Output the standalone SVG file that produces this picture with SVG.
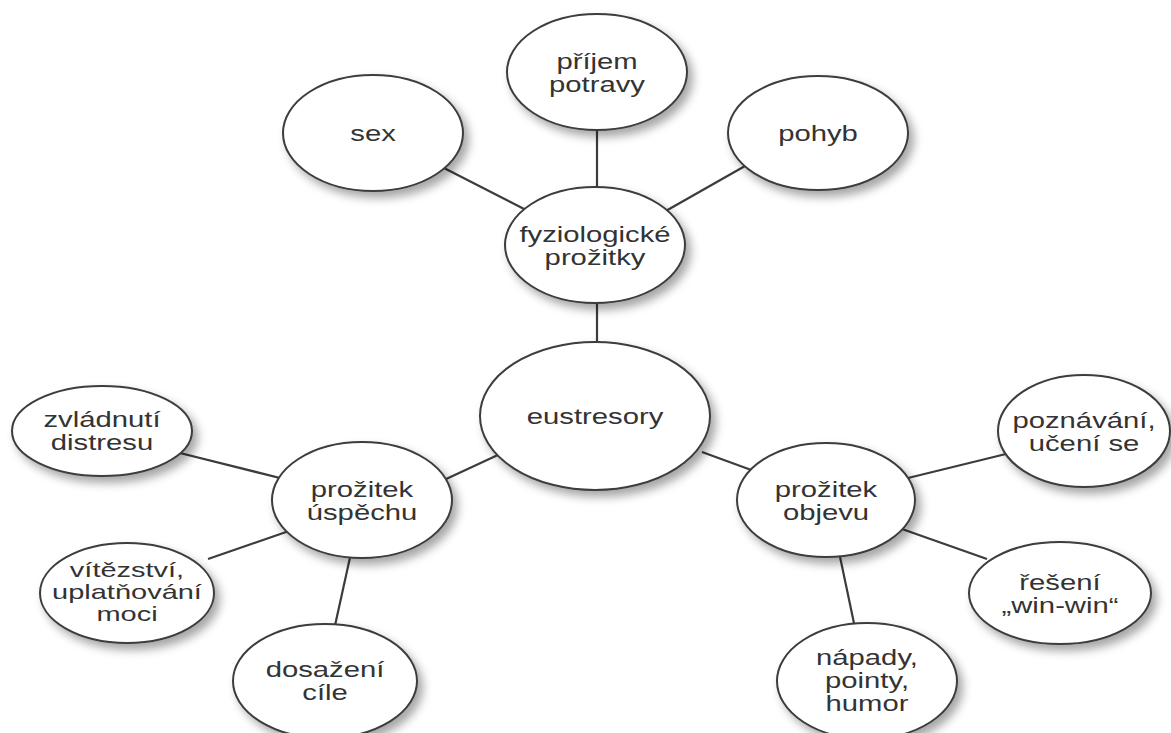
<svg xmlns="http://www.w3.org/2000/svg" width="1171" height="733" viewBox="0 0 1171 733">
<defs>
<filter id="sh" x="-20%" y="-20%" width="150%" height="150%">
<feDropShadow dx="5" dy="6" stdDeviation="5" flood-color="#000" flood-opacity="0.35"/>
</filter>
</defs>
<style>
.n{fill:#fff;stroke:#3c3c3c;stroke-width:2;filter:url(#sh)}
.c line{stroke:#3c3c3c;stroke-width:2.2}
text{font-family:"Liberation Sans",Arial,sans-serif;font-size:22px;fill:#333;text-anchor:middle}
.s{font-size:20px}
</style>
<rect width="1171" height="733" fill="#fff"/>
<g class="c" id="connectors">
<line x1="597" y1="125" x2="597" y2="190"/>
<line x1="442" y1="167" x2="528" y2="211"/>
<line x1="745" y1="166" x2="664" y2="212"/>
<line x1="597" y1="300" x2="597" y2="345"/>
<line x1="444" y1="480" x2="500" y2="454"/>
<line x1="180" y1="453" x2="284" y2="479"/>
<line x1="208" y1="559" x2="289" y2="531"/>
<line x1="351" y1="553" x2="334" y2="630"/>
<line x1="702" y1="452" x2="754" y2="471"/>
<line x1="908" y1="478" x2="1010" y2="453"/>
<line x1="902" y1="529" x2="987" y2="559"/>
<line x1="839" y1="552" x2="855" y2="628"/>
</g>
<g id="n-prijem"><ellipse class="n" cx="597" cy="72" rx="90" ry="58"/>
<text transform="translate(597 0) scale(1.33 1)" y="69">příjem</text>
<text transform="translate(597 0) scale(1.33 1)" y="92">potravy</text></g>
<g id="n-sex"><ellipse class="n" cx="373" cy="133" rx="90" ry="58"/>
<text transform="translate(373 0) scale(1.33 1)" y="141">sex</text></g>
<g id="n-pohyb"><ellipse class="n" cx="818" cy="133" rx="90" ry="57"/>
<text transform="translate(818 0) scale(1.33 1)" y="141">pohyb</text></g>
<g id="n-fyz"><ellipse class="n" cx="595" cy="245" rx="90" ry="58"/>
<text transform="translate(595 0) scale(1.33 1)" y="242">fyziologické</text>
<text transform="translate(595 0) scale(1.33 1)" y="265">prožitky</text></g>
<g id="n-eustresory"><ellipse class="n" cx="595" cy="416" rx="115" ry="74"/>
<text transform="translate(595 0) scale(1.33 1)" y="424">eustresory</text></g>
<g id="n-zvladnuti"><ellipse class="n" cx="102" cy="431" rx="90" ry="45"/>
<text transform="translate(102 0) scale(1.33 1)" y="427">zvládnutí</text>
<text transform="translate(102 0) scale(1.33 1)" y="450">distresu</text></g>
<g id="n-uspech"><ellipse class="n" cx="362" cy="500" rx="90" ry="58"/>
<text transform="translate(362 0) scale(1.33 1)" y="497">prožitek</text>
<text transform="translate(362 0) scale(1.33 1)" y="520">úspěchu</text></g>
<g id="n-vitezstvi"><ellipse class="n" cx="127" cy="593" rx="87" ry="50"/>
<text class="s" transform="translate(127 0) scale(1.45 1)" y="577">vítězství,</text>
<text class="s" transform="translate(127 0) scale(1.45 1)" y="599">uplatňování</text>
<text class="s" transform="translate(127 0) scale(1.45 1)" y="621">moci</text></g>
<g id="n-dosazeni"><ellipse class="n" cx="325" cy="681" rx="92" ry="57"/>
<text transform="translate(325 0) scale(1.33 1)" y="677">dosažení</text>
<text transform="translate(325 0) scale(1.33 1)" y="700">cíle</text></g>
<g id="n-objevu"><ellipse class="n" cx="826" cy="500" rx="89" ry="57"/>
<text transform="translate(826 0) scale(1.33 1)" y="497">prožitek</text>
<text transform="translate(826 0) scale(1.33 1)" y="520">objevu</text></g>
<g id="n-poznavani"><ellipse class="n" cx="1084" cy="431" rx="86" ry="56"/>
<text transform="translate(1084 0) scale(1.33 1)" y="428">poznávání,</text>
<text transform="translate(1084 0) scale(1.33 1)" y="451">učení se</text></g>
<g id="n-reseni"><ellipse class="n" cx="1060" cy="593" rx="91" ry="51"/>
<text transform="translate(1060 0) scale(1.33 1)" y="590">řešení</text>
<text transform="translate(1060 0) scale(1.33 1)" y="613">„win-win“</text></g>
<g id="n-napady"><ellipse class="n" cx="867" cy="681" rx="90" ry="58"/>
<text transform="translate(867 0) scale(1.33 1)" y="665">nápady,</text>
<text transform="translate(867 0) scale(1.33 1)" y="688">pointy,</text>
<text transform="translate(867 0) scale(1.33 1)" y="711">humor</text></g>
</svg>
